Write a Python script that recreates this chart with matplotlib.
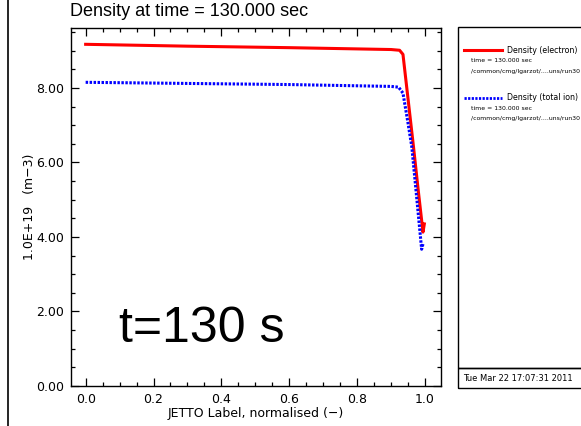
import matplotlib
matplotlib.use("Agg")
import matplotlib.pyplot as plt
from matplotlib.patches import Rectangle
from matplotlib.ticker import MultipleLocator

# electron density profile (1e19 m-3) vs normalised JETTO label
rho_e = [0.0, 0.3, 0.6, 0.9, 0.925, 0.935, 0.95, 0.966, 0.98, 0.994, 0.998]
dens_e = [9.17, 9.12, 9.08, 9.03, 9.01, 8.90, 7.70, 6.42, 5.25, 4.13, 4.35]

# total ion density
rho_i = [0.0, 0.3, 0.6, 0.9, 0.922, 0.935, 0.95, 0.961, 0.975, 0.99, 0.995]
dens_i = [8.15, 8.12, 8.09, 8.04, 8.02, 7.86, 7.05, 6.42, 5.10, 3.67, 3.85]

xticks = [0.0, 0.2, 0.4, 0.6, 0.8, 1.0]
yticks = [0.0, 2.0, 4.0, 6.0, 8.0]

fig = plt.figure(figsize=(5.81, 4.26), dpi=100)
ax = fig.add_axes([0.1217, 0.0939, 0.6373, 0.8397])

ax.plot(rho_e, dens_e, color='#ff0000', lw=2.2)
ax.plot(rho_i, dens_i, color='#0000ff', lw=2.2, linestyle=(0, (0.8, 0.5)))

ax.set_xlim(-0.044, 1.047)
ax.set_ylim(0, 9.6)
ax.set_xticks(xticks)
ax.set_xticklabels(['%.1f' % v for v in xticks])
ax.set_yticks(yticks)
ax.set_yticklabels(['%.2f' % v for v in yticks])
ax.xaxis.set_minor_locator(MultipleLocator(0.05))
ax.yaxis.set_minor_locator(MultipleLocator(0.5))
ax.tick_params(which='both', direction='in', top=True, right=True, labelsize=9, pad=5)
ax.tick_params(which='major', length=6, width=0.9)
ax.tick_params(which='minor', length=3, width=0.9)
for s in ax.spines.values():
    s.set_linewidth(1.0)

ax.set_xlabel('JETTO Label, normalised (\u2212)', fontsize=9, labelpad=1)
ax.set_ylabel('1.0E+19   (m\u22123)', fontsize=9, labelpad=0)

fig.text(0.1205, 0.9624, 'Density at time = 130.000 sec', fontsize=13,
         family='Liberation Sans', va='baseline', ha='left')
ax.text(0.13, 0.16, 't=130 s', transform=ax.transAxes, fontsize=36,
        family='Liberation Sans', ha='left', va='center')

# left border line
fig.add_artist(plt.Line2D([0.0138, 0.0138], [0, 1], color='black', lw=1.2, transform=fig.transFigure))

# legend panel
fig.add_artist(Rectangle((0.788, 0.136), 0.3, 0.8006, transform=fig.transFigure,
                         fill=False, edgecolor='black', lw=1.0))
fig.add_artist(Rectangle((0.788, 0.089), 0.3, 0.047, transform=fig.transFigure,
                         fill=False, edgecolor='black', lw=1.0))
fig.text(0.797, 0.112, 'Tue Mar 22 17:07:31 2011', fontsize=6, va='center')

fig.add_artist(plt.Line2D([0.799, 0.864], [0.882, 0.882], color='#ff0000', lw=2.2, transform=fig.transFigure))
fig.text(0.872, 0.882, 'Density (electron)', fontsize=5.7, va='center')
fig.text(0.811, 0.857, 'time = 130.000 sec', fontsize=4.4, va='center')
fig.text(0.811, 0.831, '/common/cmg/lgarzot/....uns/run30', fontsize=4.4, va='center')

fig.add_artist(plt.Line2D([0.799, 0.864], [0.770, 0.770], color='#0000ff', lw=2.0,
                          linestyle=(0, (0.8, 0.5)), transform=fig.transFigure))
fig.text(0.872, 0.770, 'Density (total ion)', fontsize=5.7, va='center')
fig.text(0.811, 0.746, 'time = 130.000 sec', fontsize=4.4, va='center')
fig.text(0.811, 0.721, '/common/cmg/lgarzot/....uns/run30', fontsize=4.4, va='center')

fig.savefig('out.png', dpi=100)
